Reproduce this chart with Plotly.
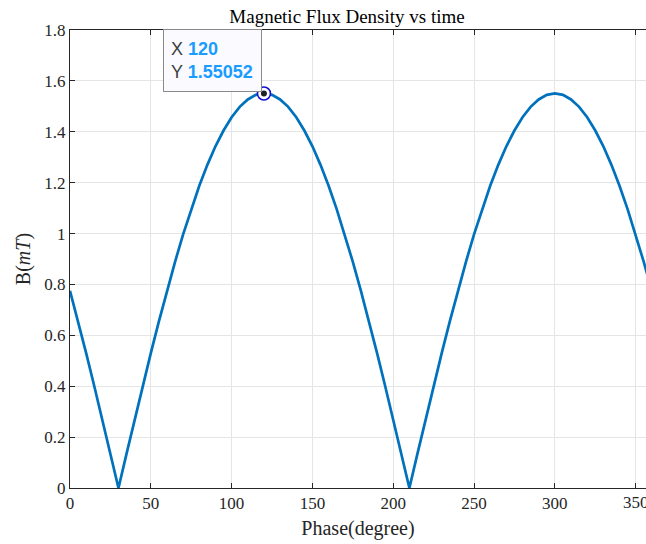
"""
Magnetic flux density vs phase, MATLAB-style look with a data tip.
"""

import plotly.graph_objects as go

# Phase samples (degree) and flux density (mT)
PHASE = [0, 5, 10, 15, 20, 25, 30, 35, 40, 45, 50, 55, 60, 65, 70, 75, 80, 85,
         90, 95, 100, 105, 110, 115, 120, 125, 130, 135, 140, 145, 150, 155,
         160, 165, 170, 175, 180, 185, 190, 195, 200, 205, 210, 215, 220, 225,
         230, 235, 240, 245, 250, 255, 260, 265, 270, 275, 280, 285, 290, 295,
         300, 305, 310, 315, 320, 325, 330, 335, 340, 345, 350, 355, 360]
FLUX = [0.775, 0.655, 0.530, 0.401, 0.269, 0.135, 0.0, 0.135, 0.269, 0.401,
        0.530, 0.655, 0.775, 0.889, 0.997, 1.096, 1.188, 1.270, 1.343, 1.405,
        1.457, 1.498, 1.527, 1.545, 1.551, 1.545, 1.527, 1.498, 1.457, 1.405,
        1.343, 1.270, 1.188, 1.096, 0.997, 0.889, 0.775, 0.655, 0.530, 0.401,
        0.269, 0.135, 0.0, 0.135, 0.269, 0.401, 0.530, 0.655, 0.775, 0.889,
        0.997, 1.096, 1.188, 1.270, 1.343, 1.405, 1.457, 1.498, 1.527, 1.545,
        1.551, 1.545, 1.527, 1.498, 1.457, 1.405, 1.343, 1.270, 1.188, 1.096,
        0.997, 0.889, 0.775]

X_TICKS = [0, 50, 100, 150, 200, 250, 300, 350]
Y_TICKS = [0, 0.2, 0.4, 0.6, 0.8, 1.0, 1.2, 1.4, 1.6, 1.8]
Y_LABELS = ["0", "0.2", "0.4", "0.6", "0.8", "1", "1.2", "1.4", "1.6", "1.8"]

TIP_X = 120
TIP_Y = 1.55052

SERIF = "Liberation Serif, DejaVu Serif, serif"
LINE_BLUE = "#0072BD"
TIP_BLUE = "#1a9cff"
AXIS_GREY = "#262626"

W, H = 646, 544

fig = go.Figure()
fig.add_trace(go.Scatter(x=PHASE, y=FLUX, mode="lines",
                         line=dict(color=LINE_BLUE, width=2.7)))
# data tip marker: blue ring with a dark centre
fig.add_trace(go.Scatter(x=[TIP_X], y=[TIP_Y], mode="markers",
                         marker=dict(size=13, color="white",
                                     line=dict(color="#1010d0", width=1.6))))
fig.add_trace(go.Scatter(x=[TIP_X], y=[TIP_Y], mode="markers",
                         marker=dict(size=6, color="#222222")))

fig.add_annotation(
    xref="paper", yref="paper", x=(163 - 70) / 576, y=1.003,
    xanchor="left", yanchor="top", align="left", valign="middle", showarrow=False,
    width=83, height=47,
    text=(f"X <span style='color:{TIP_BLUE}'><b>{TIP_X}</b></span><br>"
          f"Y <span style='color:{TIP_BLUE}'><b>{TIP_Y}</b></span>"),
    font=dict(family="Liberation Sans, Arial, sans-serif", size=18, color="#404040"),
    bgcolor="#fafaff", bordercolor="#8a8a8a", borderwidth=1, borderpad=7,
)

# last x tick label runs off the right edge; plotly hides it, so draw it by hand
fig.add_annotation(
    xref="x", yref="paper", x=X_TICKS[-1], y=0, yshift=-3,
    xanchor="center", yanchor="top", showarrow=False, text=str(X_TICKS[-1]),
    font=dict(family=SERIF, size=17, color=AXIS_GREY),
)

axis_common = dict(
    showgrid=True, gridcolor="#e5e5e5", gridwidth=1,
    showline=True, linecolor=AXIS_GREY, linewidth=1,
    ticks="inside", ticklen=5, tickcolor=AXIS_GREY,
    zeroline=False, automargin=False,
    tickfont=dict(family=SERIF, size=17, color=AXIS_GREY),
)

fig.update_layout(
    width=W, height=H,
    margin=dict(l=70, r=0, t=30, b=56),
    plot_bgcolor="white", paper_bgcolor="white",
    showlegend=False,
    title=dict(text="Magnetic Flux Density vs time", x=347 / W,
               xanchor="center", y=1 - 16 / H, yanchor="middle",
               font=dict(family=SERIF, size=19, color="black")),
    xaxis=dict(axis_common, mirror="ticks", range=[0, 356.4], tickvals=X_TICKS,
               title=dict(text="Phase(degree)", standoff=8,
                          font=dict(family=SERIF, size=20, color=AXIS_GREY))),
    yaxis=dict(axis_common, mirror=False, range=[0, 1.8],
               tickvals=Y_TICKS, ticktext=Y_LABELS,
               title=dict(text="B(<i>mT</i>)", standoff=8,
                          font=dict(family=SERIF, size=20, color=AXIS_GREY))),
)

# drop the default page margin so the figure fills the window exactly
fig.write_html("out.html", config={"displayModeBar": False},
               post_script="document.body.style.margin = '0px';")
